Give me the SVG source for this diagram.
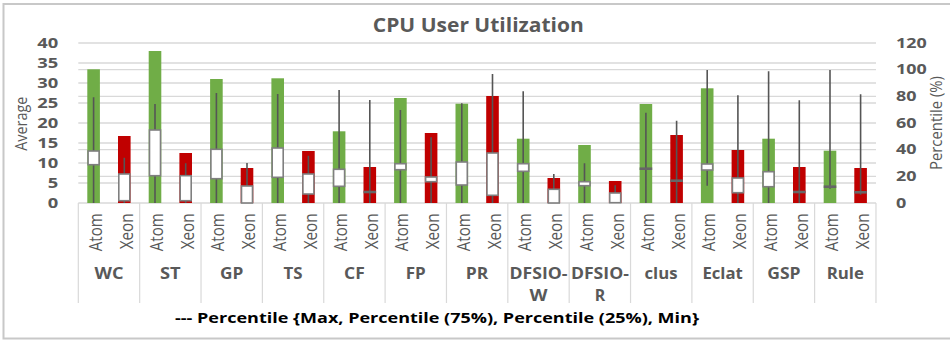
<svg xmlns="http://www.w3.org/2000/svg" width="950" height="341" viewBox="0 0 950 341">
<style>
.grid{stroke:#d9d9d9;stroke-width:1.3;fill:none}
.sep{stroke:#d9d9d9;stroke-width:1.2}
.atom{fill:#70ad47}
.xeon{fill:#c00000}
.wh{stroke:#555555;stroke-width:1.6}
.box{fill:#ffffff;stroke:#7f7f7f;stroke-width:1.6}
.med{stroke:#666666;stroke-width:2.6}
.ax{font-family:"Open Sans","Liberation Sans",Arial,sans-serif;font-weight:bold;font-size:14px;fill:#595959}
.cat{font-family:"Open Sans","Liberation Sans",Arial,sans-serif;font-size:19px;fill:#595959}
.grp{font-family:"Open Sans","Liberation Sans",Arial,sans-serif;font-weight:bold;font-size:15.5px;fill:#595959}
.ttl{font-family:"Open Sans","Liberation Sans",Arial,sans-serif;font-weight:bold;font-size:19.5px;fill:#595959}
.lbl{font-family:"Open Sans","Liberation Sans",Arial,sans-serif;font-size:16px;fill:#595959}
.leg{font-family:"Open Sans","Liberation Sans",Arial,sans-serif;font-weight:bold;font-size:15px;fill:#000000}
</style>
<rect x="0" y="0" width="950" height="341" fill="#ffffff"/>
<rect x="3.5" y="4" width="952" height="334.5" fill="none" stroke="#c8c8c8" stroke-width="2"/>

<g id="title"><text class="ttl" x="478.3" y="32.3" text-anchor="middle" textLength="211" lengthAdjust="spacingAndGlyphs">CPU User Utilization</text></g>

<g id="gridlines">
<path class="grid" d="M78.3 43H876M78.3 63H876M78.3 83H876M78.3 103H876M78.3 123H876M78.3 143H876M78.3 163H876M78.3 183H876M78.3 203H876"/>
<path class="grid" d="M78.3 69.7H876M78.3 96.3H876M78.3 149.7H876M78.3 176.3H876"/>
<path class="sep" d="M78.3 203V303M139.66 203V303M201.02 203V303M262.38 203V303M323.74 203V303M385.1 203V303M446.46 203V303M507.82 203V303M569.18 203V303M630.54 203V303M691.9 203V303M753.26 203V303M814.62 203V303M875.98 203V303"/>
</g>

<g id="left-axis">
<text class="ax" x="58.3" y="48" text-anchor="end" textLength="21" lengthAdjust="spacingAndGlyphs">40</text>
<text class="ax" x="58.3" y="68" text-anchor="end" textLength="21" lengthAdjust="spacingAndGlyphs">35</text>
<text class="ax" x="58.3" y="88" text-anchor="end" textLength="21" lengthAdjust="spacingAndGlyphs">30</text>
<text class="ax" x="58.3" y="108" text-anchor="end" textLength="21" lengthAdjust="spacingAndGlyphs">25</text>
<text class="ax" x="58.3" y="128" text-anchor="end" textLength="21" lengthAdjust="spacingAndGlyphs">20</text>
<text class="ax" x="58.3" y="148" text-anchor="end" textLength="21" lengthAdjust="spacingAndGlyphs">15</text>
<text class="ax" x="58.3" y="168" text-anchor="end" textLength="21" lengthAdjust="spacingAndGlyphs">10</text>
<text class="ax" x="58.3" y="188" text-anchor="end" textLength="10.5" lengthAdjust="spacingAndGlyphs">5</text>
<text class="ax" x="58.3" y="208" text-anchor="end" textLength="10.5" lengthAdjust="spacingAndGlyphs">0</text>
<text class="lbl" transform="translate(26.5,123.7) rotate(-90)" text-anchor="middle" textLength="54" lengthAdjust="spacingAndGlyphs">Average</text>
</g>

<g id="right-axis">
<text class="ax" x="896" y="47.7" textLength="30.7" lengthAdjust="spacingAndGlyphs">120</text>
<text class="ax" x="896" y="74.4" textLength="30.7" lengthAdjust="spacingAndGlyphs">100</text>
<text class="ax" x="896" y="101" textLength="20.5" lengthAdjust="spacingAndGlyphs">80</text>
<text class="ax" x="896" y="127.7" textLength="20.5" lengthAdjust="spacingAndGlyphs">60</text>
<text class="ax" x="896" y="154.4" textLength="20.5" lengthAdjust="spacingAndGlyphs">40</text>
<text class="ax" x="896" y="181" textLength="20.5" lengthAdjust="spacingAndGlyphs">20</text>
<text class="ax" x="896" y="207.7" textLength="10.3" lengthAdjust="spacingAndGlyphs">0</text>
<text class="lbl" transform="translate(942,123) rotate(-90)" text-anchor="middle" textLength="94" lengthAdjust="spacingAndGlyphs">Percentile (%)</text>
</g>

<g id="bars">
<rect class="atom" x="87.3" y="69.3" width="12.6" height="133.7"/>
<rect class="xeon" x="118" y="136" width="12.6" height="67"/>
<rect class="atom" x="148.7" y="51" width="12.6" height="152"/>
<rect class="xeon" x="179.4" y="153" width="12.6" height="50"/>
<rect class="atom" x="210.1" y="79" width="12.6" height="124"/>
<rect class="xeon" x="240.7" y="168" width="12.6" height="35"/>
<rect class="atom" x="271.4" y="78.3" width="12.6" height="124.7"/>
<rect class="xeon" x="302.1" y="151" width="12.6" height="52"/>
<rect class="atom" x="332.8" y="131.3" width="12.6" height="71.7"/>
<rect class="xeon" x="363.5" y="167" width="12.6" height="36"/>
<rect class="atom" x="394.1" y="98" width="12.6" height="105"/>
<rect class="xeon" x="424.8" y="133" width="12.6" height="70"/>
<rect class="atom" x="455.5" y="103.7" width="12.6" height="99.3"/>
<rect class="xeon" x="486.2" y="96" width="12.6" height="107"/>
<rect class="atom" x="516.9" y="138.7" width="12.6" height="64.3"/>
<rect class="xeon" x="547.5" y="178" width="12.6" height="25"/>
<rect class="atom" x="578.2" y="145" width="12.6" height="58"/>
<rect class="xeon" x="608.9" y="181" width="12.6" height="22"/>
<rect class="atom" x="639.6" y="104" width="12.6" height="99"/>
<rect class="xeon" x="670.3" y="135" width="12.6" height="68"/>
<rect class="atom" x="700.9" y="88.3" width="12.6" height="114.7"/>
<rect class="xeon" x="731.6" y="150" width="12.6" height="53"/>
<rect class="atom" x="762.3" y="138.7" width="12.6" height="64.3"/>
<rect class="xeon" x="793" y="167" width="12.6" height="36"/>
<rect class="atom" x="823.7" y="150.7" width="12.6" height="52.3"/>
<rect class="xeon" x="854.3" y="168" width="12.6" height="35"/>
</g>

<g id="whiskers">
<path class="wh" d="M93.6 97.3V203M124.3 157.7V203M155 104V203M185.7 163.3V203M216.4 93V203M247 163V203M277.7 94V203M308.4 155.7V203M339.1 90V203M369.8 100V203M400.4 110V203M431.1 137.3V203M461.8 103.3V203M492.5 74V203M523.2 91.3V203M553.8 174V203M584.5 163.3V203M615.2 185.3V203M645.9 112.7V203M676.6 120.7V203M707.2 70V185.7M737.9 95.3V203M768.6 71.3V203M799.3 100.3V203M830 70V188.7M860.6 94.3V194.7"/>
</g>

<g id="percentile-boxes">
<rect class="box" x="88.1" y="151" width="11" height="13.7"/>
<rect class="box" x="118.8" y="174" width="11" height="26.7"/>
<rect class="box" x="149.5" y="130" width="11" height="45.7"/>
<rect class="box" x="180.2" y="175.7" width="11" height="25"/>
<rect class="box" x="210.9" y="149.3" width="11" height="29.4"/>
<rect class="box" x="241.5" y="186" width="11" height="17"/>
<rect class="box" x="272.2" y="148" width="11" height="29.3"/>
<rect class="box" x="302.9" y="174" width="11" height="20"/>
<rect class="box" x="333.6" y="169.3" width="11" height="17"/>
<path class="med" d="M363.5 192H376.1"/>
<rect class="box" x="394.9" y="163.7" width="11" height="6"/>
<rect class="box" x="425.6" y="177" width="11" height="4.7"/>
<rect class="box" x="456.3" y="162" width="11" height="23"/>
<rect class="box" x="487" y="153" width="11" height="42.3"/>
<rect class="box" x="517.7" y="163.7" width="11" height="7.6"/>
<rect class="box" x="548.3" y="189.3" width="11" height="13.7"/>
<rect class="box" x="579" y="181.7" width="11" height="4"/>
<rect class="box" x="609.7" y="193" width="11" height="9.7"/>
<path class="med" d="M639.6 168.7H652.2"/>
<path class="med" d="M670.3 180.7H682.9"/>
<rect class="box" x="701.7" y="164" width="11" height="6"/>
<rect class="box" x="732.4" y="178" width="11" height="14.7"/>
<rect class="box" x="763.1" y="171.7" width="11" height="15"/>
<path class="med" d="M793 192H805.6"/>
<path class="med" d="M823.7 186.7H836.3"/>
<path class="med" d="M854.3 192.3H866.9"/>
</g>

<g id="category-labels">
<text class="cat" text-anchor="end" transform="translate(101.6,213.3) rotate(-90)" textLength="38" lengthAdjust="spacingAndGlyphs">Atom</text>
<text class="cat" text-anchor="end" transform="translate(132.6,213.3) rotate(-90)" textLength="36" lengthAdjust="spacingAndGlyphs">Xeon</text>
<text class="cat" text-anchor="end" transform="translate(163,213.3) rotate(-90)" textLength="38" lengthAdjust="spacingAndGlyphs">Atom</text>
<text class="cat" text-anchor="end" transform="translate(194,213.3) rotate(-90)" textLength="36" lengthAdjust="spacingAndGlyphs">Xeon</text>
<text class="cat" text-anchor="end" transform="translate(224.4,213.3) rotate(-90)" textLength="38" lengthAdjust="spacingAndGlyphs">Atom</text>
<text class="cat" text-anchor="end" transform="translate(255.3,213.3) rotate(-90)" textLength="36" lengthAdjust="spacingAndGlyphs">Xeon</text>
<text class="cat" text-anchor="end" transform="translate(285.7,213.3) rotate(-90)" textLength="38" lengthAdjust="spacingAndGlyphs">Atom</text>
<text class="cat" text-anchor="end" transform="translate(316.7,213.3) rotate(-90)" textLength="36" lengthAdjust="spacingAndGlyphs">Xeon</text>
<text class="cat" text-anchor="end" transform="translate(347.1,213.3) rotate(-90)" textLength="38" lengthAdjust="spacingAndGlyphs">Atom</text>
<text class="cat" text-anchor="end" transform="translate(378.1,213.3) rotate(-90)" textLength="36" lengthAdjust="spacingAndGlyphs">Xeon</text>
<text class="cat" text-anchor="end" transform="translate(408.4,213.3) rotate(-90)" textLength="38" lengthAdjust="spacingAndGlyphs">Atom</text>
<text class="cat" text-anchor="end" transform="translate(439.4,213.3) rotate(-90)" textLength="36" lengthAdjust="spacingAndGlyphs">Xeon</text>
<text class="cat" text-anchor="end" transform="translate(469.8,213.3) rotate(-90)" textLength="38" lengthAdjust="spacingAndGlyphs">Atom</text>
<text class="cat" text-anchor="end" transform="translate(500.8,213.3) rotate(-90)" textLength="36" lengthAdjust="spacingAndGlyphs">Xeon</text>
<text class="cat" text-anchor="end" transform="translate(531.2,213.3) rotate(-90)" textLength="38" lengthAdjust="spacingAndGlyphs">Atom</text>
<text class="cat" text-anchor="end" transform="translate(562.1,213.3) rotate(-90)" textLength="36" lengthAdjust="spacingAndGlyphs">Xeon</text>
<text class="cat" text-anchor="end" transform="translate(592.5,213.3) rotate(-90)" textLength="38" lengthAdjust="spacingAndGlyphs">Atom</text>
<text class="cat" text-anchor="end" transform="translate(623.5,213.3) rotate(-90)" textLength="36" lengthAdjust="spacingAndGlyphs">Xeon</text>
<text class="cat" text-anchor="end" transform="translate(653.9,213.3) rotate(-90)" textLength="38" lengthAdjust="spacingAndGlyphs">Atom</text>
<text class="cat" text-anchor="end" transform="translate(684.9,213.3) rotate(-90)" textLength="36" lengthAdjust="spacingAndGlyphs">Xeon</text>
<text class="cat" text-anchor="end" transform="translate(715.2,213.3) rotate(-90)" textLength="38" lengthAdjust="spacingAndGlyphs">Atom</text>
<text class="cat" text-anchor="end" transform="translate(746.2,213.3) rotate(-90)" textLength="36" lengthAdjust="spacingAndGlyphs">Xeon</text>
<text class="cat" text-anchor="end" transform="translate(776.6,213.3) rotate(-90)" textLength="38" lengthAdjust="spacingAndGlyphs">Atom</text>
<text class="cat" text-anchor="end" transform="translate(807.6,213.3) rotate(-90)" textLength="36" lengthAdjust="spacingAndGlyphs">Xeon</text>
<text class="cat" text-anchor="end" transform="translate(838,213.3) rotate(-90)" textLength="38" lengthAdjust="spacingAndGlyphs">Atom</text>
<text class="cat" text-anchor="end" transform="translate(868.9,213.3) rotate(-90)" textLength="36" lengthAdjust="spacingAndGlyphs">Xeon</text>
</g>

<g id="group-labels">
<text class="grp" x="109" y="279.3" text-anchor="middle" textLength="29" lengthAdjust="spacingAndGlyphs">WC</text>
<text class="grp" x="170.3" y="279.3" text-anchor="middle" textLength="20.7" lengthAdjust="spacingAndGlyphs">ST</text>
<text class="grp" x="231.7" y="279.3" text-anchor="middle" textLength="23.3" lengthAdjust="spacingAndGlyphs">GP</text>
<text class="grp" x="293.1" y="279.3" text-anchor="middle" textLength="19" lengthAdjust="spacingAndGlyphs">TS</text>
<text class="grp" x="354.4" y="279.3" text-anchor="middle" textLength="20.7" lengthAdjust="spacingAndGlyphs">CF</text>
<text class="grp" x="415.8" y="279.3" text-anchor="middle" textLength="20" lengthAdjust="spacingAndGlyphs">FP</text>
<text class="grp" x="477.1" y="279.3" text-anchor="middle" textLength="22.5" lengthAdjust="spacingAndGlyphs">PR</text>
<text class="grp" x="538.5" y="279.3" text-anchor="middle" textLength="58" lengthAdjust="spacingAndGlyphs">DFSIO-</text>
<text class="grp" x="538.5" y="300.8" text-anchor="middle" textLength="18" lengthAdjust="spacingAndGlyphs">W</text>
<text class="grp" x="599.9" y="279.3" text-anchor="middle" textLength="58" lengthAdjust="spacingAndGlyphs">DFSIO-</text>
<text class="grp" x="599.9" y="300.8" text-anchor="middle" textLength="10.5" lengthAdjust="spacingAndGlyphs">R</text>
<text class="grp" x="661" y="279.3" text-anchor="middle" textLength="33" lengthAdjust="spacingAndGlyphs">clus</text>
<text class="grp" x="722.6" y="279.3" text-anchor="middle" textLength="40.4" lengthAdjust="spacingAndGlyphs">Eclat</text>
<text class="grp" x="783.9" y="279.3" text-anchor="middle" textLength="33.3" lengthAdjust="spacingAndGlyphs">GSP</text>
<text class="grp" x="845.3" y="279.3" text-anchor="middle" textLength="37.3" lengthAdjust="spacingAndGlyphs">Rule</text>
</g>

<g id="legend"><text class="leg" x="175" y="323.3" textLength="524" lengthAdjust="spacingAndGlyphs">--- Percentile {Max, Percentile (75%), Percentile (25%), Min}</text></g>
</svg>
